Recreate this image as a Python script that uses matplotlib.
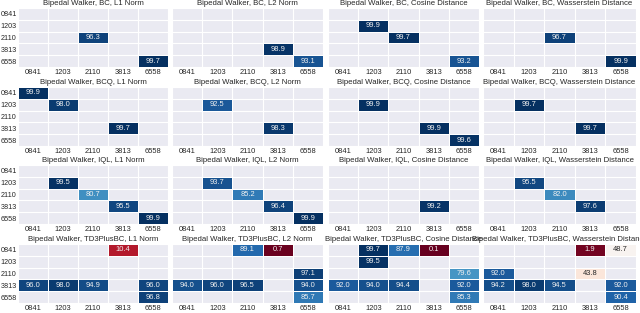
import numpy as np
import matplotlib
matplotlib.use("Agg")
import matplotlib.pyplot as plt
from matplotlib.colors import to_rgb

plt.rcParams["font.family"] = ["Liberation Sans", "DejaVu Sans"]

N = np.nan
seeds = ["0841", "1203", "2110", "3813", "6558"]
algos = ["BC", "BCQ", "IQL", "TD3PlusBC"]
metrics = ["L1 Norm", "L2 Norm", "Cosine Distance", "Wasserstein Distance"]

# rows = algos, cols = metrics; each a 5x5 grid (row seed x col seed), nan = empty
bc = [
    [[N, N, N, N, N], [N, N, N, N, N], [N, N, 96.3, N, N], [N, N, N, N, N], [N, N, N, N, 99.7]],
    [[N, N, N, N, N], [N, N, N, N, N], [N, N, N, N, N], [N, N, N, 98.9, N], [N, N, N, N, 93.1]],
    [[N, N, N, N, N], [N, 99.9, N, N, N], [N, N, 99.7, N, N], [N, N, N, N, N], [N, N, N, N, 93.2]],
    [[N, N, N, N, N], [N, N, N, N, N], [N, N, 96.7, N, N], [N, N, N, N, N], [N, N, N, N, 99.9]],
]
bcq = [
    [[99.9, N, N, N, N], [N, 98.0, N, N, N], [N, N, N, N, N], [N, N, N, 99.7, N], [N, N, N, N, N]],
    [[N, N, N, N, N], [N, 92.5, N, N, N], [N, N, N, N, N], [N, N, N, 98.3, N], [N, N, N, N, N]],
    [[N, N, N, N, N], [N, 99.9, N, N, N], [N, N, N, N, N], [N, N, N, 99.9, N], [N, N, N, N, 99.6]],
    [[N, N, N, N, N], [N, 99.7, N, N, N], [N, N, N, N, N], [N, N, N, 99.7, N], [N, N, N, N, N]],
]
iql = [
    [[N, N, N, N, N], [N, 99.5, N, N, N], [N, N, 80.7, N, N], [N, N, N, 95.5, N], [N, N, N, N, 99.9]],
    [[N, N, N, N, N], [N, 93.7, N, N, N], [N, N, 85.2, N, N], [N, N, N, 96.4, N], [N, N, N, N, 99.9]],
    [[N, N, N, N, N], [N, N, N, N, N], [N, N, N, N, N], [N, N, N, 99.2, N], [N, N, N, N, N]],
    [[N, N, N, N, N], [N, 95.5, N, N, N], [N, N, 82.0, N, N], [N, N, N, 97.6, N], [N, N, N, N, N]],
]
td3 = [
    [[N, N, N, 10.4, N], [N, N, N, N, N], [N, N, N, N, N], [96.0, 98.0, 94.9, N, 96.0], [N, N, N, N, 96.8]],
    [[N, N, 89.1, 0.7, N], [N, N, N, N, N], [N, N, N, N, 97.1], [94.0, 96.0, 96.5, N, 94.0], [N, N, N, N, 85.7]],
    [[N, 99.7, 87.9, 0.1, N], [N, 99.5, N, N, N], [N, N, N, N, 79.6], [92.0, 94.0, 94.4, N, 92.0], [N, N, N, N, 85.3]],
    [[N, N, N, 1.9, 48.7], [N, N, N, N, N], [92.0, N, N, 43.8, N], [94.2, 98.0, 94.5, N, 92.0], [N, N, N, N, 90.4]],
]
grids = [bc, bcq, iql, td3]


def rel_lum(col):
    rgb = np.array(to_rgb(col))
    rgb = np.where(rgb <= 0.03928, rgb / 12.92, ((rgb + 0.055) / 1.055) ** 2.4)
    return 0.2126 * rgb[0] + 0.7152 * rgb[1] + 0.0722 * rgb[2]


W, H = 640, 313
fig = plt.figure(figsize=(W / 100, H / 100), dpi=100)
cmap = plt.get_cmap("RdBu")

lefts = [18, 172, 328, 483]
widths = [150, 151, 151, 153]
tops = [8, 87, 165, 244]
ah = 59

for r, algo in enumerate(algos):
    for c, met in enumerate(metrics):
        ax = fig.add_axes([lefts[c] / W, 1 - (tops[r] + ah) / H, widths[c] / W, ah / H])
        ax.set_facecolor("#EAEAF2")
        data = np.ma.masked_invalid(np.array(grids[r][c], dtype=float))
        ax.pcolormesh(np.arange(6), np.arange(6), data, cmap=cmap, vmin=0, vmax=100,
                      edgecolors="white", linewidth=0.6)
        for i in range(5):
            for j in range(5):
                v = data[i, j]
                if np.ma.is_masked(v):
                    continue
                dark_bg = rel_lum(cmap(v / 100)) <= 0.408
                ax.text(j + 0.5, i + 0.5, f"{v:.1f}", ha="center", va="center",
                        fontsize=5.4, color="#f0f0f0" if dark_bg else "#262626")
        ax.set_xlim(0, 5); ax.set_ylim(5, 0)
        ax.set_xticks(np.arange(5) + 0.5)
        ax.set_xticklabels(seeds, fontsize=5.4, color="#262626")
        ax.set_yticks(np.arange(5) + 0.5)
        if c == 0:
            ax.set_yticklabels(seeds, fontsize=5.2, color="#262626")
        else:
            ax.set_yticklabels([])
        ax.set_xticks(np.arange(6), minor=True)
        ax.set_yticks(np.arange(6), minor=True)
        ax.grid(which="minor", color="white", lw=0.8)
        ax.grid(which="major", visible=False)
        ax.set_axisbelow(True)
        ax.tick_params(which="both", length=0, pad=1.5)
        ax.tick_params(axis="y", pad=0.8)
        for s in ax.spines.values():
            s.set_visible(False)
        ax.set_title(f"Bipedal Walker, {algo}, {met}", fontsize=5.6, color="#262626", pad=2)

fig.savefig("out.png", dpi=100)
